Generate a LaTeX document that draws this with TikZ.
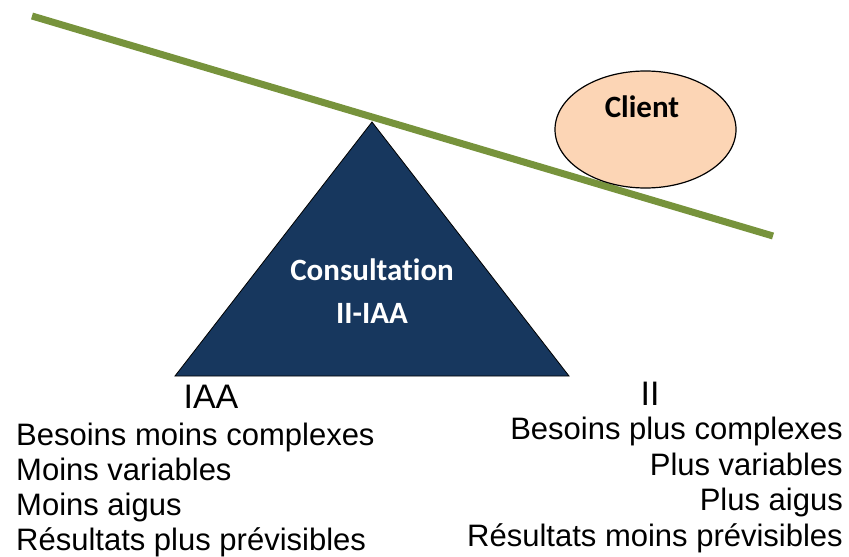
\documentclass[tikz,border=0pt]{standalone}
\usepackage{xcolor}
\usepackage{fontspec}
\usepackage{tikz}
\newfontfamily\arialfont{Liberation Sans}
\newfontfamily\calfont[Ligatures=CommonOff]{Carlito}
\usetikzlibrary{shapes,positioning,calc}
\definecolor{navyfill}{HTML}{17375E}
\definecolor{olivebar}{HTML}{77933C}
\definecolor{peachfill}{HTML}{FCD5B5}
\tikzset{
    plaintext/.style={font=\arialfont\fontsize{31}{36}\selectfont, inner sep=0pt},
    headtext/.style={font=\arialfont\fontsize{34}{40}\selectfont, inner sep=0pt},
    boldtext/.style={font=\calfont\bfseries\fontsize{31}{36}\selectfont, inner sep=0pt}
}

\begin{document}
\begin{tikzpicture}[x=1pt,y=-1pt]
    \useasboundingbox (0,0) rectangle (849,557);
    
    \draw[olivebar, line width=7pt] (32,16) -- (773,236);
    \draw[fill=peachfill, line width=1.2pt] (645.5,129.5) ellipse (90.5 and 58.5);
    \draw[fill=navyfill, line width=0.8pt] (372,122) -- (175,376) -- (569,376) -- cycle;
    
    \node[boldtext, white, anchor=base] (consult) at (372,280) {Consultation};
    \node[boldtext, white, anchor=base] (iiiaa) at (372,323) {II-IAA};
    \node[boldtext, anchor=base] (client) at (642,117) {Client};
    
    \node[headtext, anchor=base] (iaa) at (211,408) {IAA};
    \node[plaintext, anchor=base west] (lone) at (16,445) {Besoins moins complexes};
    \node[plaintext, anchor=base west] (ltwo) at (16,480) {Moins variables};
    \node[plaintext, anchor=base west] (lthree) at (16,515) {Moins aigus};
    \node[plaintext, anchor=base west] (lfour) at (16,550) {Résultats plus prévisibles};
    
    \node[headtext, anchor=base] (ii) at (650,405) {II};
    \node[plaintext, anchor=base east] (rone) at (843,439) {Besoins plus complexes};
    \node[plaintext, anchor=base east] (rtwo) at (843,475) {Plus variables};
    \node[plaintext, anchor=base east] (rthree) at (843,510) {Plus aigus};
    \node[plaintext, anchor=base east] (rfour) at (843,546) {Résultats moins prévisibles};
\end{tikzpicture}
\end{document}
